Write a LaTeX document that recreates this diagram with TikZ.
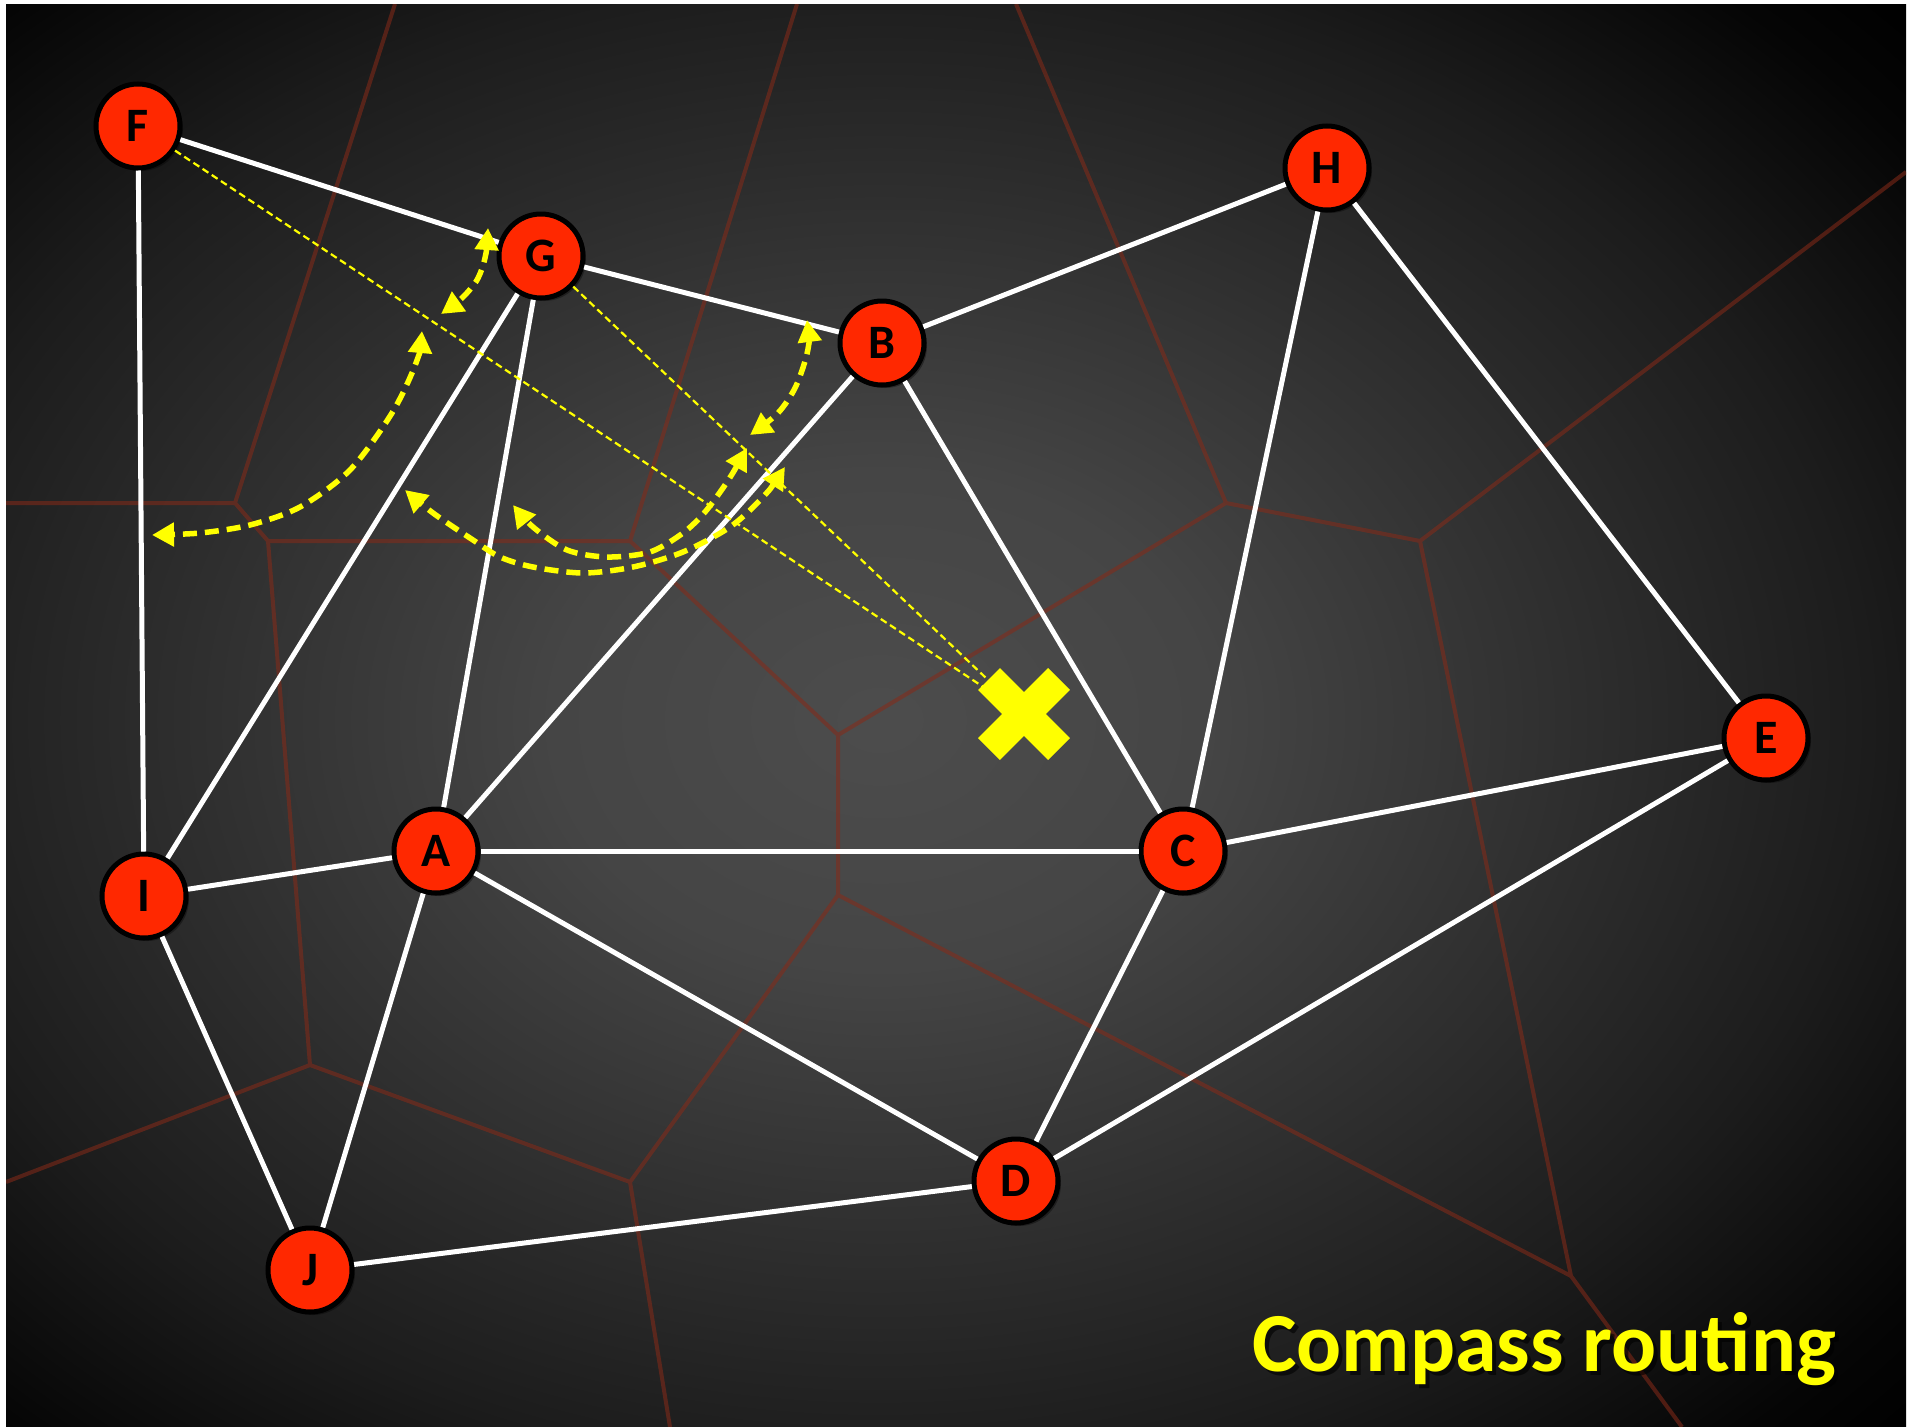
\documentclass[tikz,border=0pt]{standalone}
\usepackage{fontspec}
\setmainfont{Carlito}
\usetikzlibrary{arrows.meta}
\definecolor{nodered}{RGB}{255,40,0}
\definecolor{vorcol}{RGB}{135,42,24}
\definecolor{ylw}{RGB}{255,255,0}
\definecolor{bga}{gray}{0.30}
\definecolor{bgb}{gray}{0.27}
\definecolor{bgc}{gray}{0.19}
\definecolor{bgd}{gray}{0.11}
\definecolor{bge}{gray}{0.02}
\pgfdeclareradialshading{bgshade}{\pgfpoint{0bp}{0bp}}{color(0bp)=(bga); color(8bp)=(bgb); color(16bp)=(bgc); color(24bp)=(bgd); color(31bp)=(bge); color(34bp)=(black); color(50bp)=(black)}
\tikzset{
  vtx/.style={circle, fill=nodered, draw=black, line width=5pt, minimum size=84pt, inner sep=0pt,
    font=\fontsize{48}{48}\selectfont\bfseries,
    preaction={fill=black, opacity=0.35, transform canvas={shift={(3pt,-3pt)}}}},
  graphedge/.style={draw=white, line width=5pt},
  vorline/.style={draw=vorcol, line width=4pt, line join=round},
  thindash/.style={draw=ylw, line width=2.2pt, dash pattern=on 7pt off 4pt},
  thickarc/.style={draw=ylw, line width=5.5pt, dash pattern=on 14pt off 8pt,
    {Triangle[length=22pt,width=23pt]}-{Triangle[length=22pt,width=23pt]}},
}
\begin{document}
\begin{tikzpicture}[x=1pt,y=-1pt]
\useasboundingbox (0,0) rectangle (1923,1427);
\fill[white] (0,0) rectangle (1923,1427);
% background
\begin{scope}
  \clip (6,4) rectangle (1906,1427);
  \shade[shading=bgshade] (-150,-60) rectangle (1910,1500);
\end{scope}
% Voronoi diagram
\begin{scope}[transparency group, opacity=0.55]
  \clip (6,4) rectangle (1906,1427);
  \draw[vorline] (6,503) -- (235,503) -- (268,541) -- (630,541) -- (838,735) -- (838,895) -- (630,1182) -- (310,1065) -- (268,541);
  \draw[vorline] (395,4) -- (235,503);
  \draw[vorline] (797,4) -- (630,541);
  \draw[vorline] (310,1065) -- (6,1182);
  \draw[vorline] (630,1182) -- (670,1427);
  \draw[vorline] (838,735) -- (1226,503) -- (1420,541) -- (1571,1276) -- (838,895);
  \draw[vorline] (1226,503) -- (1016,4);
  \draw[vorline] (1420,541) -- (1906,172);
  \draw[vorline] (1571,1276) -- (1682,1427);
\end{scope}
% nodes
\node[vtx] (F) at (138,126) {F};
\node[vtx] (G) at (541,256) {G};
\node[vtx] (B) at (882,343) {B};
\node[vtx] (H) at (1327,168) {H};
\node[vtx] (E) at (1766,738) {E};
\node[vtx] (C) at (1183,851) {C};
\node[vtx] (A) at (436,851) {A};
\node[vtx] (I) at (144,896) {I};
\node[vtx] (J) at (310,1270) {J};
\node[vtx] (D) at (1016,1181) {D};
\coordinate (X) at (1024,714);
% graph edges
\foreach \a/\b in {F/G,F/I,G/B,G/I,G/A,B/H,B/A,B/C,H/C,H/E,E/C,E/D,C/A,C/D,A/I,A/J,A/D,I/J,J/D}
  \draw[graphedge] (\a) -- (\b);
% direction lines to the destination
\draw[thindash] (F) -- (X);
\draw[thindash] (G) -- (X);
% angle arcs
\draw[thickarc] plot[smooth] coordinates {(488,228) (485,258) (477,280) (462,298) (441,314)};
\draw[thickarc] plot[smooth] coordinates {(422,331) (416,363) (392,413) (350,470) (300,507) (250,525) (200,533) (152,535)};
\draw[thickarc] plot[smooth] coordinates {(807,320) (808,349) (796,386) (778,413) (750,435)};
\draw[thickarc] plot[smooth] coordinates {(747,448) (727,482) (705,512) (683,533) (650,552) (607,557) (567,550) (533,527) (513,505)};
\draw[thickarc] plot[smooth] coordinates {(785,467) (763,497) (730,527) (683,552) (633,567) (583,573) (533,567) (500,557) (473,540) (433,513) (405,490)};
% destination mark
\begin{scope}[shift={(X)}]
  \fill[ylw, rotate=45] (-49.5,-15.5) rectangle (49.5,15.5);
  \fill[ylw, rotate=-45] (-49.5,-15.5) rectangle (49.5,15.5);
\end{scope}
% title
\node[anchor=base west, inner sep=0pt, text=black, opacity=0.6, font=\fontsize{84}{84}\selectfont\bfseries] (Tshadow) at (1256,1375) {Compass routing};
\node[anchor=base west, inner sep=0pt, text=ylw, font=\fontsize{84}{84}\selectfont\bfseries] (T) at (1252,1371) {Compass routing};
\end{tikzpicture}
\end{document}
